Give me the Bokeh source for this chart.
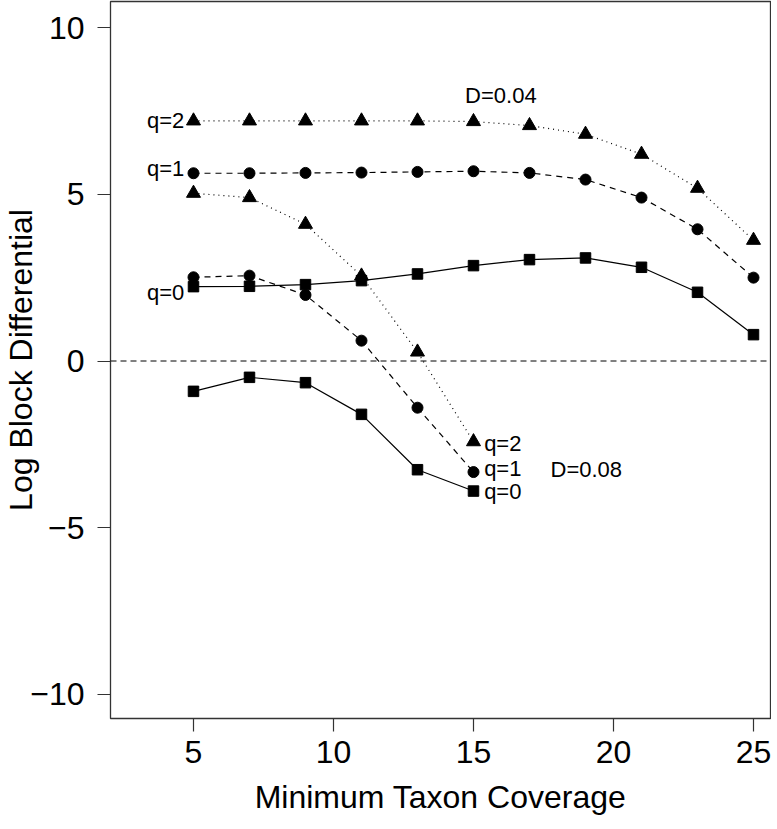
from bokeh.plotting import figure
from bokeh.models import Range1d, FixedTicker, Span
from bokeh.core.properties import value
from bokeh.embed import file_html
from bokeh.resources import INLINE

# ---- data ----
x_d04 = [5, 7, 9, 11, 13, 15, 17, 19, 21, 23, 25]
d04_q0 = [2.23, 2.24, 2.29, 2.41, 2.61, 2.86, 3.04, 3.09, 2.81, 2.06, 0.79]
d04_q1 = [5.63, 5.63, 5.64, 5.65, 5.67, 5.69, 5.64, 5.44, 4.90, 3.95, 2.50]
d04_q2 = [7.20, 7.20, 7.20, 7.20, 7.20, 7.18, 7.06, 6.80, 6.20, 5.18, 3.62]

x_d08 = [5, 7, 9, 11, 13, 15]
d08_q0 = [-0.91, -0.49, -0.65, -1.60, -3.26, -3.90]
d08_q1 = [2.51, 2.56, 1.98, 0.61, -1.40, -3.33]
d08_q2 = [5.03, 4.90, 4.10, 2.55, 0.27, -2.42]

x_ticks = [5, 10, 15, 20, 25]
y_ticks = [-10, -5, 0, 5, 10]
y_tick_labels = ["\u221210", "\u22125", "0", "5", "10"]

series_labels = ["q=0", "q=1", "q=2"]
panel_labels = ["D=0.04", "D=0.08"]

# annotation positions (data units)
left_lab_x = [4.67, 4.67, 4.67]
left_lab_y = [2.05, 5.77, 7.21]
right_lab_x = [15.38, 15.38, 15.38]
right_lab_y = [-3.9, -3.22, -2.46]
panel_lab_x = [14.7, 17.75]
panel_lab_y = [7.96, -3.25]

FONT = "Liberation Sans"

p = figure(frame_width=660, frame_height=717,
           min_border_left=100, min_border_right=1, min_border_top=1, min_border_bottom=92,
           x_range=Range1d(2.036, 25.607), y_range=Range1d(-10.72, 10.78),
           output_backend="svg", toolbar_location=None)

p.background_fill_color = "white"
p.border_fill_color = "white"
p.outline_line_color = "#333333"
p.outline_line_width = 1.3
p.xgrid.visible = False
p.ygrid.visible = False

for ax in (p.xaxis[0], p.yaxis[0]):
    ax.axis_line_color = None
    ax.major_tick_out = 13
    ax.major_tick_in = 0
    ax.minor_tick_line_color = None
    ax.major_tick_line_color = "#333333"
    ax.major_tick_line_width = 1.2
    ax.major_label_text_font = FONT
    ax.major_label_text_font_size = "32px"
    ax.major_label_text_color = "black"
    ax.axis_label_text_font = FONT
    ax.axis_label_text_font_size = "32px"
    ax.axis_label_text_font_style = "normal"
    ax.axis_label_text_color = "black"

p.xaxis.ticker = FixedTicker(ticks=x_ticks)
p.yaxis.ticker = FixedTicker(ticks=y_ticks)
p.yaxis.major_label_overrides = {t: l for t, l in zip(y_ticks, y_tick_labels)}
p.xaxis.axis_label = "Minimum Taxon Coverage"
p.yaxis.axis_label = "Log Block Differential"
p.yaxis.major_label_standoff = 13
p.yaxis.axis_label_standoff = -12
p.xaxis.major_label_standoff = 9
p.xaxis.axis_label_standoff = 13

# zero reference line
p.add_layout(Span(location=0, dimension="width", line_color="black",
                  line_width=1, line_dash="6 4"))

# lines
for xs, ys, dash in [(x_d04, d04_q0, "solid"), (x_d04, d04_q1, "6 5"), (x_d04, d04_q2, "1 4"),
                     (x_d08, d08_q0, "solid"), (x_d08, d08_q1, "6 5"), (x_d08, d08_q2, "1 4")]:
    p.line(xs, ys, line_color="black", line_width=1.2, line_dash=dash)

# markers
for xs, ys in [(x_d04, d04_q0), (x_d08, d08_q0)]:
    p.scatter(xs, ys, marker="square", size=10.5, color="black")
for xs, ys in [(x_d04, d04_q1), (x_d08, d08_q1)]:
    p.scatter(xs, ys, marker="circle", size=11, color="black")
for xs, ys in [(x_d04, d04_q2), (x_d08, d08_q2)]:
    p.scatter(xs, ys, marker="triangle", size=14, color="black")

# labels
p.text(left_lab_x, left_lab_y, text=series_labels, text_align="right", text_baseline="middle",
       text_font=value(FONT), text_font_size="22px", text_color="black")
p.text(right_lab_x, right_lab_y, text=series_labels, text_align="left", text_baseline="middle",
       text_font=value(FONT), text_font_size="22px", text_color="black")
p.text(panel_lab_x, panel_lab_y, text=panel_labels, text_align="left", text_baseline="middle",
       text_font=value(FONT), text_font_size="22px", text_color="black")

open("out.html", "w").write(file_html(p, INLINE))
